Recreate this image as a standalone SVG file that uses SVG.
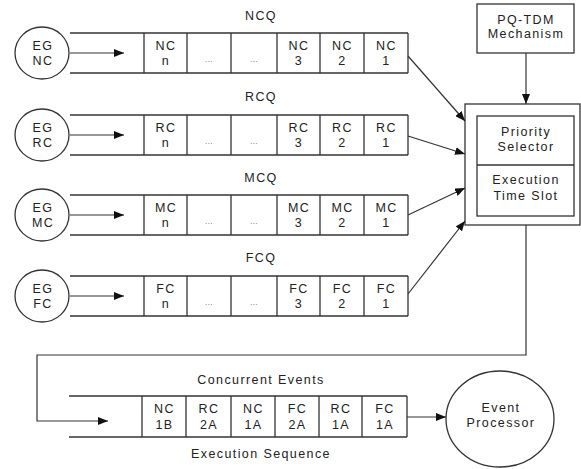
<svg xmlns="http://www.w3.org/2000/svg" width="581" height="469" viewBox="0 0 581 469">
<style>
text{font-family:"Liberation Sans",Arial,sans-serif;font-size:12.5px;letter-spacing:1.4px;fill:#222;text-anchor:middle}
.dots{font-size:8px;letter-spacing:0.5px;fill:#555}
.rail{stroke:#666;stroke-width:2.2;fill:none}
.cell{stroke:#333;stroke-width:1.3;fill:none}
.box{stroke:#333;stroke-width:1.3;fill:#fff}
.ln{stroke:#333;stroke-width:1.2;fill:none}
</style>
<defs>
<marker id="ah" markerWidth="10" markerHeight="8" refX="10" refY="4" orient="auto" markerUnits="userSpaceOnUse">
<path d="M0,0 L10,4 L0,8 Z" fill="#111"/>
</marker>
</defs>
<g id="ncq">
<text x="261" y="20">NCQ</text>
<ellipse cx="42" cy="53" rx="27" ry="26" class="box"/>
<text x="43" y="50">EG</text><text x="43" y="65">NC</text>
<line x1="70" y1="33" x2="408" y2="33" class="rail"/>
<line x1="70" y1="73" x2="408" y2="73" class="rail"/>
<path d="M144,33V73M187,33V73M231,33V73M277,33V73M320,33V73M364,33V73M408,33V73" class="cell"/>
<text x="166" y="50">NC</text><text x="166" y="65">n</text>
<text x="209" y="62" class="dots">...</text><text x="254" y="62" class="dots">...</text>
<text x="299" y="50">NC</text><text x="299" y="65">3</text>
<text x="342.5" y="50">NC</text><text x="342.5" y="65">2</text>
<text x="386.5" y="50">NC</text><text x="386.5" y="65">1</text>
</g>
<g id="rcq">
<text x="261" y="101">RCQ</text>
<ellipse cx="42" cy="135" rx="27" ry="26" class="box"/>
<text x="43" y="132">EG</text><text x="43" y="147">RC</text>
<line x1="70" y1="115" x2="408" y2="115" class="rail"/>
<line x1="70" y1="155" x2="408" y2="155" class="rail"/>
<path d="M144,115V155M187,115V155M231,115V155M277,115V155M320,115V155M364,115V155M408,115V155" class="cell"/>
<text x="166" y="132">RC</text><text x="166" y="147">n</text>
<text x="209" y="144" class="dots">...</text><text x="254" y="144" class="dots">...</text>
<text x="299" y="132">RC</text><text x="299" y="147">3</text>
<text x="342.5" y="132">RC</text><text x="342.5" y="147">2</text>
<text x="386.5" y="132">RC</text><text x="386.5" y="147">1</text>
</g>
<g id="mcq">
<text x="261" y="182">MCQ</text>
<ellipse cx="42" cy="215" rx="27" ry="26" class="box"/>
<text x="43" y="212">EG</text><text x="43" y="227">MC</text>
<line x1="70" y1="195" x2="408" y2="195" class="rail"/>
<line x1="70" y1="235" x2="408" y2="235" class="rail"/>
<path d="M144,195V235M187,195V235M231,195V235M277,195V235M320,195V235M364,195V235M408,195V235" class="cell"/>
<text x="166" y="212">MC</text><text x="166" y="227">n</text>
<text x="209" y="224" class="dots">...</text><text x="254" y="224" class="dots">...</text>
<text x="299" y="212">MC</text><text x="299" y="227">3</text>
<text x="342.5" y="212">MC</text><text x="342.5" y="227">2</text>
<text x="386.5" y="212">MC</text><text x="386.5" y="227">1</text>
</g>
<g id="fcq">
<text x="261" y="262">FCQ</text>
<ellipse cx="42" cy="296" rx="27" ry="26" class="box"/>
<text x="43" y="293">EG</text><text x="43" y="308">FC</text>
<line x1="70" y1="276" x2="408" y2="276" class="rail"/>
<line x1="70" y1="316" x2="408" y2="316" class="rail"/>
<path d="M144,276V316M187,276V316M231,276V316M277,276V316M320,276V316M364,276V316M408,276V316" class="cell"/>
<text x="166" y="293">FC</text><text x="166" y="308">n</text>
<text x="209" y="305" class="dots">...</text><text x="254" y="305" class="dots">...</text>
<text x="299" y="293">FC</text><text x="299" y="308">3</text>
<text x="342.5" y="293">FC</text><text x="342.5" y="308">2</text>
<text x="386.5" y="293">FC</text><text x="386.5" y="308">1</text>
</g>
<g id="pqtdm">
<rect x="477" y="4" width="97" height="49" class="box"/>
<text x="526" y="24">PQ-TDM</text><text x="526" y="38">Mechanism</text>
</g>
<g id="selector">
<rect x="465" y="104" width="115" height="121" class="box"/>
<rect x="477" y="116" width="97" height="100" class="box"/>
<line x1="477" y1="165" x2="574" y2="165" class="cell"/>
<text x="526" y="136">Priority</text><text x="526" y="151">Selector</text>
<text x="526" y="184">Execution</text><text x="526" y="200">Time Slot</text>
</g>
<g id="exec">
<text x="261" y="384">Concurrent Events</text>
<line x1="69" y1="396" x2="407" y2="396" class="rail"/>
<line x1="69" y1="437" x2="407" y2="437" class="rail"/>
<path d="M142,396V437M186,396V437M231,396V437M275,396V437M319,396V437M362,396V437M407,396V437" class="cell"/>
<text x="164.5" y="413">NC</text><text x="164.5" y="429">1B</text>
<text x="209" y="413">RC</text><text x="209" y="429">2A</text>
<text x="253.5" y="413">NC</text><text x="253.5" y="429">1A</text>
<text x="297.5" y="413">FC</text><text x="297.5" y="429">2A</text>
<text x="341" y="413">RC</text><text x="341" y="429">1A</text>
<text x="385" y="413">FC</text><text x="385" y="429">1A</text>
<text x="261" y="458">Execution Sequence</text>
</g>
<g id="processor">
<ellipse cx="500" cy="419" rx="54" ry="48" class="box"/>
<text x="501" y="412">Event</text><text x="501" y="427">Processor</text>
</g>
<g id="connectors">
<line x1="70" y1="53" x2="124" y2="53" class="ln" marker-end="url(#ah)"/>
<line x1="70" y1="135" x2="124" y2="135" class="ln" marker-end="url(#ah)"/>
<line x1="70" y1="215" x2="124" y2="215" class="ln" marker-end="url(#ah)"/>
<line x1="70" y1="296" x2="124" y2="296" class="ln" marker-end="url(#ah)"/>
<line x1="526" y1="53" x2="526" y2="104" class="ln" marker-end="url(#ah)"/>
<line x1="408" y1="56" x2="465" y2="121" class="ln" marker-end="url(#ah)"/>
<line x1="408" y1="136" x2="465" y2="154" class="ln" marker-end="url(#ah)"/>
<line x1="408" y1="215" x2="465" y2="188" class="ln" marker-end="url(#ah)"/>
<line x1="408" y1="294" x2="465" y2="221" class="ln" marker-end="url(#ah)"/>
<path d="M526,225V355H37V421H108" class="ln" marker-end="url(#ah)"/>
<line x1="407" y1="417" x2="446" y2="417" class="ln" marker-end="url(#ah)"/>
</g>
</svg>
